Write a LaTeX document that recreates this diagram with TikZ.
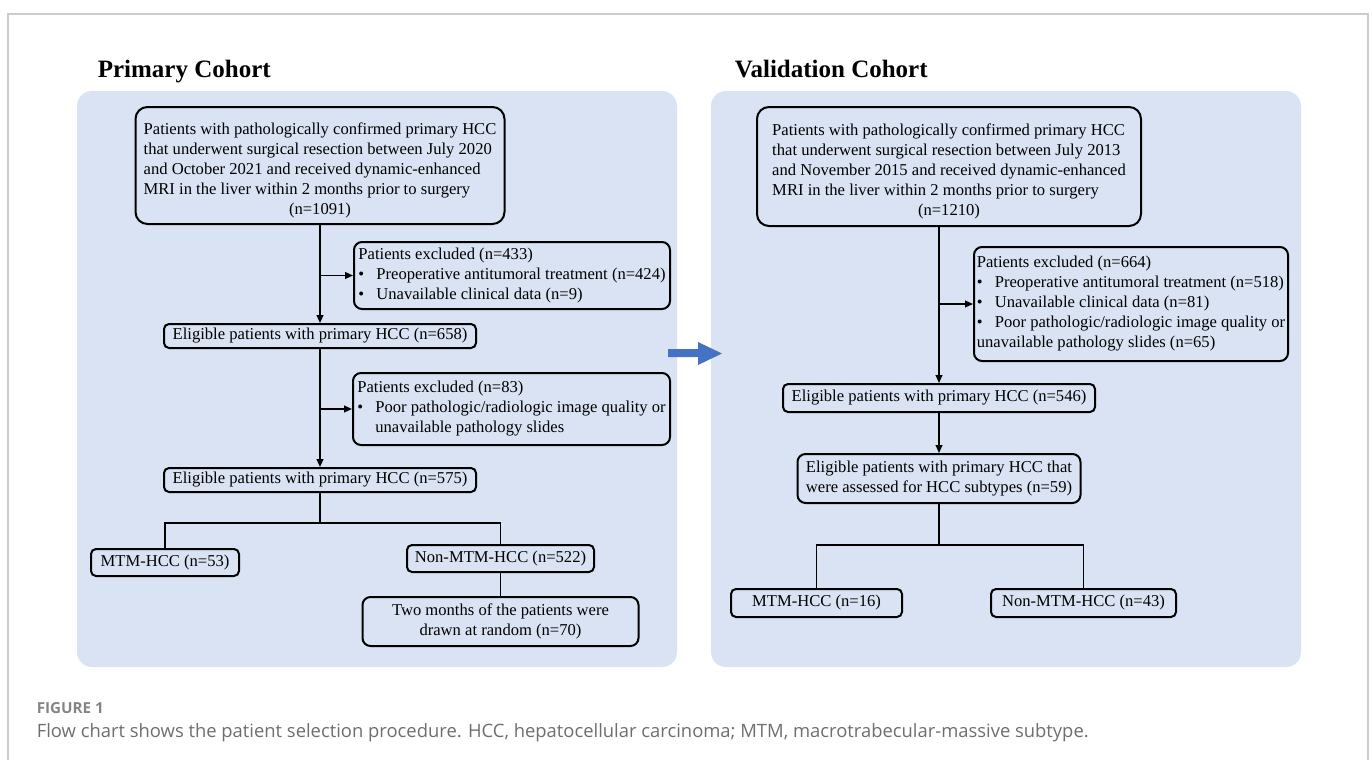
\documentclass[tikz,border=0pt]{standalone}
\usepackage{fontspec}
\setmainfont{Liberation Serif}
\newfontfamily\capfont{Open Sans}
\usetikzlibrary{arrows.meta}
\definecolor{panelblue}{HTML}{DAE3F3}
\definecolor{arrowblue}{HTML}{4472C4}
\definecolor{capgray}{HTML}{6E6E6E}
\definecolor{framegray}{HTML}{CCCCCC}
\newcommand{\bul}{\makebox[9pt][l]{\textbullet}}
\newcommand{\indt}{\hspace*{9pt}}

\begin{document}
\begin{tikzpicture}[x=0.5pt,y=-0.5pt,line width=0.8pt,
	>={Triangle[length=4pt,width=3.4pt]},
	box font/.style = {font=\fontsize{8.3}{10}\selectfont},
	main box/.style = {draw, rounded corners=6pt, line width=1pt, box font, inner sep=0pt},
	excl box/.style = {draw, rounded corners=4pt, line width=1pt, box font, align=left, inner sep=0pt},
	small box/.style = {draw, rounded corners=2.5pt, line width=1pt, box font, inner sep=0pt},
	cohort title/.style = {font=\fontsize{12.5}{15}\selectfont\bfseries, anchor=base west, inner sep=0pt},
	cohort panel/.style = {fill=panelblue, rounded corners=7.5pt}]
	
	\useasboundingbox (0,0) rectangle (1372,760);
	\draw[framegray,line width=0.6pt] (8,760) -- (8,14) -- (1368,14) -- (1368,760);
	
	% panels
	\fill[cohort panel] (77,91) rectangle (677,667);
	\fill[cohort panel] (711,91) rectangle (1301,667);
	\node[cohort title] (t1) at (97,77) {Primary Cohort};
	\node[cohort title] (t2) at (734,77) {Validation Cohort};
	\fill[arrowblue] (668,349) -- (698,349) -- (698,342) -- (722,353.5) -- (698,365) -- (698,357) -- (668,357) -- cycle;
	
	% primary cohort
	\node[main box, minimum width=184.5pt, minimum height=58.5pt] (p1) at (320,165.5)
	{\begin{tabular}{@{}l@{}}
		\rule{0pt}{12pt}Patients with pathologically confirmed primary HCC\\
		that underwent surgical resection between July 2020\\
		and October 2021 and received dynamic-enhanced\\
		MRI in the liver within 2 months prior to surgery\\
		\multicolumn{1}{@{}c@{}}{(n=1091)}
	\end{tabular}};
	\node[excl box, minimum width=158pt, minimum height=33.5pt] (p2) at (512,275.5)
	{Patients excluded (n=433)\\
		\bul Preoperative antitumoral treatment (n=424)\\
		\bul Unavailable clinical data (n=9)};
	\node[small box, minimum width=156pt, minimum height=12pt] (p3) at (320,336) {Eligible patients with primary HCC (n=658)};
	\node[excl box, minimum width=158.5pt, minimum height=36pt] (p4) at (511.5,409)
	{Patients excluded (n=83)\\
		\bul Poor pathologic/radiologic image quality or\\
		\indt unavailable pathology slides};
	\node[small box, minimum width=156pt, minimum height=12pt] (p5) at (320,480) {Eligible patients with primary HCC (n=575)};
	\node[small box, minimum width=74pt, minimum height=13.5pt] (p6) at (165,562.5) {MTM-HCC (n=53)};
	\node[small box, minimum width=93.5pt, minimum height=13.5pt] (p7) at (500.5,558.5) {Non-MTM-HCC (n=522)};
	\node[small box, rounded corners=4pt, align=center, minimum width=138pt, minimum height=24.5pt] (p8) at (500.5,621.5)
	{Two months of the patients were\\ drawn at random (n=70)};
	\coordinate (s1) at (320,523);
	
	\draw[->] (p1) -- (p3);
	\draw[->] (p3.north |- p2.west) -- (p2.west);
	\draw[->] (p3) -- (p5);
	\draw[->] (p5.north |- p4.west) -- (p4.west);
	\draw (p5) -- (s1);
	\draw (p6) |- (s1) -| (p7);
	\draw (p7) -- (p8);
	
	% validation cohort
	\node[main box, minimum width=192pt, minimum height=59.5pt] (v1) at (949,166.5)
	{\begin{tabular}{@{}l@{}}
		\rule{0pt}{12pt}Patients with pathologically confirmed primary HCC\\
		that underwent surgical resection between July 2013\\
		and November 2015 and received dynamic-enhanced\\
		MRI in the liver within 2 months prior to surgery\\
		\multicolumn{1}{@{}c@{}}{(n=1210)}
	\end{tabular}};
	\node[excl box, minimum width=157pt, minimum height=57pt] (v2) at (1131,304)
	{Patients excluded (n=664)\\
		\bul Preoperative antitumoral treatment (n=518)\\
		\bul Unavailable clinical data (n=81)\\
		\bul Poor pathologic/radiologic image quality or\\
		unavailable pathology slides (n=65)};
	\node[small box, minimum width=156pt, minimum height=14pt] (v3) at (939,398) {Eligible patients with primary HCC (n=546)};
	\node[small box, rounded corners=4pt, align=left, minimum width=141.5pt, minimum height=24.5pt] (v4) at (939,478.5)
	{Eligible patients with primary HCC that\\ were assessed for HCC subtypes (n=59)};
	\node[small box, minimum width=85.5pt, minimum height=14pt] (v5) at (816.5,603) {MTM-HCC (n=16)};
	\node[small box, minimum width=92.5pt, minimum height=14pt] (v6) at (1083.5,603) {Non-MTM-HCC (n=43)};
	\coordinate (s2) at (939,545);
	
	\draw[->] (v1.south -| v3.north) -- (v3.north);
	\draw[->] (v3.north |- v2.west) -- (v2.west);
	\draw[->] (v3) -- (v4);
	\draw (v4) -- (s2);
	\draw (v5) |- (s2) -| (v6);
	
	% caption
	\node[anchor=base west, inner sep=0pt, font=\capfont\fontsize{7.6}{9}\selectfont\bfseries, text=capgray!85] (fig) at (36,713) {FIGURE 1};
	\node[anchor=base west, inner sep=0pt, font=\capfont\fontsize{9.2}{11}\selectfont, text=capgray] (cap) at (36,737)
	{Flow chart shows the patient selection procedure. HCC, hepatocellular carcinoma; MTM, macrotrabecular-massive subtype.};
	
\end{tikzpicture}
\end{document}
